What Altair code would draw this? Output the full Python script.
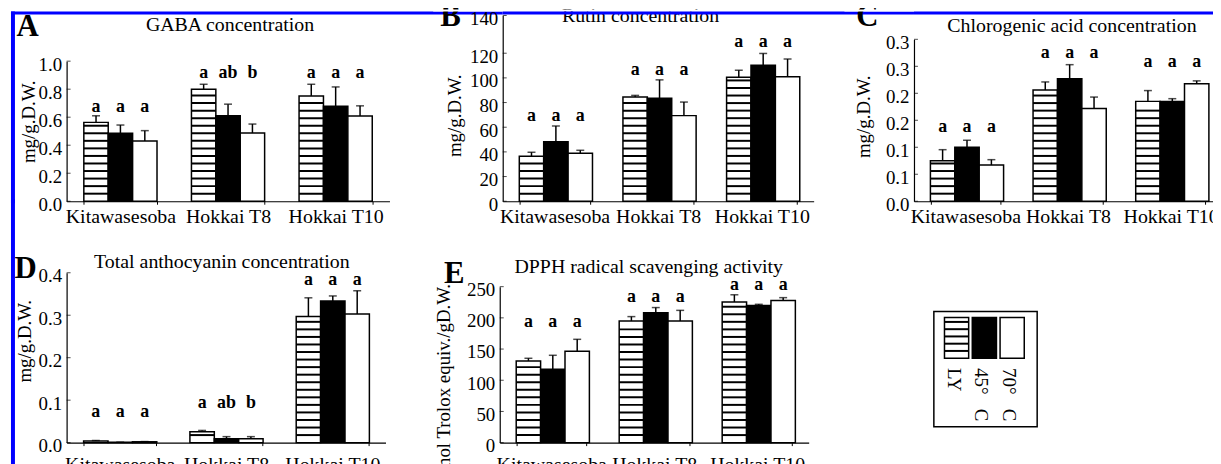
import altair as alt
import pandas as pd

# ---------------- data ----------------
cultivars = ["Kitawasesoba", "Hokkai T8", "Hokkai T10"]
treatments = ["LY", "45° C", "70° C"]

# A  GABA concentration (mg/g D.W.)
gaba_ly = [0.563, 0.799, 0.752]
gaba_45 = [0.485, 0.610, 0.678]
gaba_70 = [0.430, 0.487, 0.608]
gaba_ly_err = [0.047, 0.036, 0.083]
gaba_45_err = [0.059, 0.083, 0.138]
gaba_70_err = [0.074, 0.064, 0.073]
gaba_ly_sig = ["a", "a", "a"]
gaba_45_sig = ["a", "ab", "a"]
gaba_70_sig = ["a", "b", "a"]
gaba_sig_level = [0.64, 0.88, 0.88]
gaba_ticks = [0.0, 0.2, 0.4, 0.6, 0.8, 1.0]
gaba_tick_labels = ["0.0", "0.2", "0.4", "0.6", "0.8", "1.0"]

# B  Rutin concentration
rutin_ly = [36.5, 84.5, 100.5]
rutin_45 = [48.3, 83.4, 110.2]
rutin_70 = [38.9, 69.4, 101.0]
rutin_ly_err = [3.2, 1.3, 5.7]
rutin_45_err = [12.7, 15.0, 9.6]
rutin_70_err = [2.4, 11.0, 14.3]
rutin_ly_sig = ["a", "a", "a"]
rutin_45_sig = ["a", "a", "a"]
rutin_70_sig = ["a", "a", "a"]
rutin_sig_level = [64.7, 102.3, 123.3]
rutin_ticks = [0, 20, 40, 60, 80, 100, 120, 140]
rutin_tick_labels = ["0", "20", "40", "60", "80", "100", "120", "140"]

# C  Chlorogenic acid concentration
chl_ly = [0.075, 0.206, 0.185]
chl_45 = [0.100, 0.227, 0.185]
chl_70 = [0.067, 0.172, 0.2175]
chl_ly_err = [0.0205, 0.015, 0.020]
chl_45_err = [0.013, 0.026, 0.005]
chl_70_err = [0.010, 0.021, 0.0055]
chl_ly_sig = ["a", "a", "a"]
chl_45_sig = ["a", "a", "a"]
chl_70_sig = ["a", "a", "a"]
chl_sig_level = [0.1275, 0.265, 0.248]
chl_ticks = [0.0, 0.05, 0.1, 0.15, 0.2, 0.25, 0.3]
chl_tick_labels = ["0.0", "0.1", "0.1", "0.2", "0.2", "0.3", "0.3"]

# D  Total anthocyanin concentration
anth_ly = [0.004, 0.0257, 0.297]
anth_45 = [0.001, 0.0094, 0.3337]
anth_70 = [0.002, 0.0094, 0.3026]
anth_ly_err = [0.001, 0.003, 0.044]
anth_45_err = [0.0, 0.0047, 0.0117]
anth_70_err = [0.0005, 0.0047, 0.055]
anth_ly_sig = ["a", "a", "a"]
anth_45_sig = ["a", "ab", "a"]
anth_70_sig = ["a", "b", "a"]
anth_sig_level = [0.061, 0.0827, 0.370]
anth_ticks = [0.0, 0.1, 0.2, 0.3, 0.4]
anth_tick_labels = ["0.0", "0.1", "0.2", "0.3", "0.4"]

# E  DPPH radical scavenging activity
dpph_ly = [130.9, 195.0, 225.4]
dpph_45 = [117.5, 208.0, 220.0]
dpph_70 = [146.4, 195.0, 228.0]
dpph_ly_err = [4.3, 7.0, 11.6]
dpph_45_err = [22.5, 8.5, 1.7]
dpph_70_err = [19.2, 17.0, 4.4]
dpph_ly_sig = ["a", "a", "a"]
dpph_45_sig = ["a", "a", "a"]
dpph_70_sig = ["a", "a", "a"]
dpph_sig_level = [185.9, 225.4, 244.7]
dpph_ticks = [0, 50, 100, 150, 200, 250]
dpph_tick_labels = ["0", "50", "100", "150", "200", "250"]

# ---------------- styling / layout constants ----------------
SERIF = "Liberation Serif"
BLUE = "#0000ff"
ROW1_H = 187
ROW2_H = 243
COL1_W = 439
COL2_W = 414
STRIPE_STEP = 7.6
STRIPE_THICK = 2.0


def build_df(means, errs, sigs, level):
    rows = []
    for i, c in enumerate(cultivars):
        for t, m, e, s in zip(treatments, means, errs, sigs):
            rows.append({"cultivar": c, "treatment": t, "value": m[i],
                         "upper": m[i] + e[i], "sig": s[i], "level": level[i]})
    return pd.DataFrame(rows)


def stripe_df(ly_vals, px_per_unit):
    rows = []
    for c, v in zip(cultivars, ly_vals):
        top = v * px_per_unit
        j = 1
        while j * STRIPE_STEP < top - 2.5:
            mid = j * STRIPE_STEP
            rows.append({"cultivar": c, "treatment": treatments[0],
                         "lo": (mid - STRIPE_THICK / 2) / px_per_unit,
                         "hi": (mid + STRIPE_THICK / 2) / px_per_unit})
            j += 1
    return pd.DataFrame(rows)


def label_expr(ticks, labels):
    expr = "''"
    for t, l in reversed(list(zip(ticks, labels))):
        expr = f"abs(datum.value - {t}) < 1e-9 ? '{l}' : ({expr})"
    return expr


def text_layer(txt, x, y, size=20, bold=False, angle=0, align="center", baseline="alphabetic"):
    kw = dict(font=SERIF, fontSize=size, color="black", align=align, baseline=baseline)
    if bold:
        kw["fontWeight"] = "bold"
    if angle:
        kw["angle"] = angle
    return alt.Chart(pd.DataFrame({"t": [txt]})).mark_text(**kw).encode(
        text="t:N", x=alt.value(x), y=alt.value(y))


def rect_layer(x, x2, y, y2, fill=BLUE, stroke=None):
    kw = dict(fill=fill, strokeWidth=0)
    if stroke:
        kw = dict(fill=None, filled=False, stroke=stroke, strokeWidth=1.5)
    return alt.Chart(pd.DataFrame({"r": [0]})).mark_rect(**kw).encode(
        x=alt.value(x), x2=alt.value(x2), y=alt.value(y), y2=alt.value(y2))


def panel(df, sdf, x_rng, view_w, view_h, y_dom, y_rng, ticks, tick_labels, decos,
          label_pad=2, y_axis_offset=0):
    xs = alt.Scale(domain=cultivars, range=x_rng, paddingInner=0.32, paddingOuter=0.16)
    xax = alt.Axis(title=None, labelAngle=0, labelFontSize=20, labelPadding=label_pad,
                   tickSize=3, tickBand="extent", tickColor="black", tickWidth=1,
                   labelFont=SERIF, labelColor="black")
    x = alt.X("cultivar:N", scale=xs, axis=xax, sort=cultivars)
    xo = alt.XOffset("treatment:N", sort=treatments,
                     scale=alt.Scale(domain=treatments, paddingInner=0, paddingOuter=0))
    ys = alt.Scale(domain=y_dom, range=y_rng, nice=False, zero=False)
    yax = alt.Axis(title=None, values=ticks, labelExpr=label_expr(ticks, tick_labels),
                   grid=False, tickSize=0, labelPadding=5, labelOffset=3, offset=y_axis_offset,
                   labelFontSize=19, labelFont=SERIF, labelColor="black")

    def Y(field):
        return alt.Y(field, scale=ys, axis=yax)

    bars = alt.Chart(df).mark_bar(stroke="black", strokeWidth=1.5).encode(
        x=x, xOffset=xo, y=Y("value:Q"),
        fill=alt.Fill("treatment:N", legend=None,
                      scale=alt.Scale(domain=treatments, range=["white", "black", "white"])))
    stripes = alt.Chart(sdf).mark_bar(color="black", strokeWidth=0).encode(
        x=x, xOffset=xo, y=Y("lo:Q"), y2="hi:Q")
    err = alt.Chart(df).mark_rule(color="black", strokeWidth=1.5).encode(
        x=x, xOffset=xo, y=Y("value:Q"), y2="upper:Q")
    cap = alt.Chart(df).mark_tick(color="black", thickness=1.5, size=8, orient="horizontal").encode(
        x=x, xOffset=xo, y=Y("upper:Q"))
    sig = alt.Chart(df).mark_text(font=SERIF, fontWeight="bold", fontSize=18,
                                  baseline="alphabetic", color="black").encode(
        x=x, xOffset=xo, y=Y("level:Q"), text="sig:N")
    yticks = alt.Chart(pd.DataFrame({"tick": ticks})).mark_tick(
        color="black", thickness=1, size=4, orient="horizontal").encode(
        y=Y("tick:Q"), x=alt.value(2 - y_axis_offset))
    return alt.layer(bars, stripes, err, cap, sig, yticks, *decos).properties(
        width=view_w, height=view_h)


# ---------------- panels ----------------
# A
a_rng = [ROW1_H, 46]
dfA = build_df([gaba_ly, gaba_45, gaba_70], [gaba_ly_err, gaba_45_err, gaba_70_err],
               [gaba_ly_sig, gaba_45_sig, gaba_70_sig], gaba_sig_level)
sA = stripe_df(gaba_ly, (a_rng[0] - a_rng[1]) / 1.0)
A = panel(dfA, sA, [0, 325], COL1_W, ROW1_H, [0, 1.0], a_rng, gaba_ticks, gaba_tick_labels, [
    text_layer("GABA concentration", 164.5, 16),
    text_layer("mg/g.D.W.", -38, 107, size=19, angle=270, baseline="middle"),
    text_layer("A", -50.5, 21, size=31, bold=True, align="left"),
    rect_layer(-60, COL1_W, -6, -4, fill="white"),
    rect_layer(-56, COL1_W, -4, -1),
    rect_layer(-56, -52, -4, ROW1_H + 2),
])

# B (axis scale as drawn: 0-120 evenly spaced, 140 squeezed at the top)
b_rng = [ROW1_H, 38, 0]
dfB = build_df([rutin_ly, rutin_45, rutin_70], [rutin_ly_err, rutin_45_err, rutin_70_err],
               [rutin_ly_sig, rutin_45_sig, rutin_70_sig], rutin_sig_level)
sB = stripe_df(rutin_ly, (b_rng[0] - b_rng[1]) / 120.0)
B = panel(dfB, sB, [0, 313], COL2_W, ROW1_H, [0, 120, 140], b_rng, rutin_ticks, rutin_tick_labels, [
    text_layer("Rutin concentration", 138.7, 7),
    text_layer("mg/g.D.W.", -47.5, 101, size=19, angle=270, baseline="middle"),
    text_layer("B", -63, 11, size=31, bold=True, align="left"),
    rect_layer(-70, COL2_W, -6, -4, fill="white"),
    rect_layer(0, COL2_W, -4, -1),
])

# C
c_rng = [ROW1_H, 24]
dfC = build_df([chl_ly, chl_45, chl_70], [chl_ly_err, chl_45_err, chl_70_err],
               [chl_ly_sig, chl_45_sig, chl_70_sig], chl_sig_level)
sC = stripe_df(chl_ly, (c_rng[0] - c_rng[1]) / 0.3)
C = panel(dfC, sC, [0, 310], 310, ROW1_H, [0, 0.3], c_rng, chl_ticks, chl_tick_labels, [
    text_layer("Chlorogenic acid concentration", 159, 17),
    text_layer("mg/g.D.W.", -50, 102, size=19, angle=270, baseline="middle"),
    text_layer("C", -58, 11, size=31, bold=True, align="left"),
    rect_layer(-70, 320, -6, -4, fill="white"),
    rect_layer(0, 320, -4, -1),
])

# D
d_rng = [ROW2_H, 72]
dfD = build_df([anth_ly, anth_45, anth_70], [anth_ly_err, anth_45_err, anth_70_err],
               [anth_ly_sig, anth_45_sig, anth_70_sig], anth_sig_level)
sD = stripe_df(anth_ly, (d_rng[0] - d_rng[1]) / 0.4)
D = panel(dfD, sD, [0, 321], COL1_W, ROW2_H, [0, 0.4], d_rng, anth_ticks, anth_tick_labels, [
    text_layer("Total anthocyanin concentration", 156.3, 67),
    text_layer("mg/g.D.W.", -42, 141, size=19, angle=270, baseline="middle"),
    text_layer("D", -52.5, 77, size=31, bold=True, align="left"),
    rect_layer(-56, -52, -2, ROW2_H + 40),
], label_pad=9)

# E (view starts 3 px right of its axis: axis shifted back by offset)
e_rng = [ROW2_H, 86]
dfE = build_df([dpph_ly, dpph_45, dpph_70], [dpph_ly_err, dpph_45_err, dpph_70_err],
               [dpph_ly_sig, dpph_45_sig, dpph_70_sig], dpph_sig_level)
sE = stripe_df(dpph_ly, (e_rng[0] - e_rng[1]) / 250.0)
E = panel(dfE, sE, [-3, 308], COL2_W, ROW2_H, [0, 250], e_rng, dpph_ticks, dpph_tick_labels, [
    text_layer("DPPH radical scavenging activity", 147, 72),
    text_layer("μ mol Trolox equiv./gD.W.", -59, 185.5, size=19, angle=270, baseline="middle"),
    text_layer("E", -59, 82, size=31, bold=True, align="left"),
], label_pad=9, y_axis_offset=3)

# Legend panel
LX = 18  # legend view starts 18 px left of the legend box region
leg_df = pd.DataFrame({"treatment": treatments,
                       "label": [t.replace(" ", "\u00a0\u00a0\u00a0") for t in treatments],
                       "one": [1.0] * 3})
lx = alt.X("treatment:N", sort=treatments, axis=None,
           scale=alt.Scale(domain=treatments, range=[12.7 + LX, 93 + LX], paddingInner=0.13, paddingOuter=0))
ly_scale = alt.Scale(domain=[0, 1], range=[158, 117], nice=False)
leg_px = 41.0
leg_stripes = []
j = 1
while j * 7.3 < leg_px - 2.5:
    mid = j * 7.3
    leg_stripes.append({"treatment": treatments[0], "lo": (mid - 1) / leg_px, "hi": (mid + 1) / leg_px})
    j += 1
leg_sdf = pd.DataFrame(leg_stripes)
sw = alt.Chart(leg_df).mark_bar(stroke="black", strokeWidth=1.5).encode(
    x=lx, y=alt.Y("one:Q", scale=ly_scale, axis=None),
    fill=alt.Fill("treatment:N", legend=None,
                  scale=alt.Scale(domain=treatments, range=["white", "black", "white"])))
sw_str = alt.Chart(leg_sdf).mark_bar(color="black", strokeWidth=0).encode(
    x=lx, y=alt.Y("lo:Q", scale=ly_scale, axis=None), y2="hi:Q")
sw_txt = alt.Chart(leg_df).mark_text(font=SERIF, fontSize=19, angle=90, align="left",
                                     baseline="middle", dy=3, color="black").encode(
    x=lx, y=alt.value(168), text="label:N")
L = alt.layer(sw, sw_str, sw_txt, rect_layer(2 + LX, 106 + LX, 111, 227, stroke="black")).properties(
    width=140, height=ROW2_H)

chart = alt.concat(A, B, C, D, E, L, columns=3, spacing=0, bounds="flush", align="each").properties(
    autosize=alt.AutoSizeParams(type="none"),
    padding={"left": 59, "top": 6, "right": 1154, "bottom": 450},
).configure_view(stroke=None).configure_axis(
    domainColor="black", domainWidth=1.2, labelColor="black", labelFont=SERIF
)

chart.save("out.html", embed_options={"renderer": "svg", "actions": False})
